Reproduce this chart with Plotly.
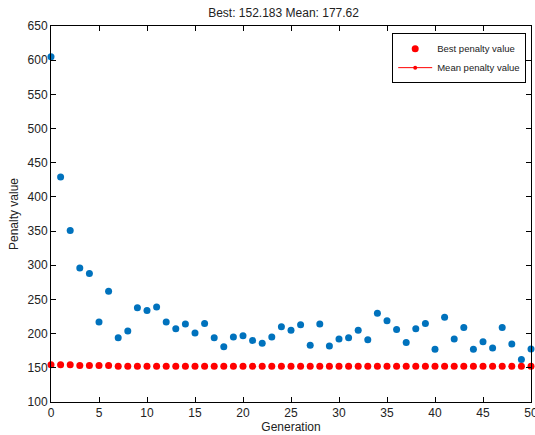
import plotly.graph_objects as go

generations = list(range(51))
best_values = [154.5, 154.5, 154.5, 153.5, 153.5, 153.5, 153.5] + [152.2] * 43 + [152.183]
mean_values = [605, 429, 351, 296, 288, 217, 262, 194, 204, 238,
               234, 239, 217, 207, 214, 201, 215, 194, 181, 195,
               197, 190, 186, 195, 210, 205, 213, 183, 214, 182,
               192, 194, 205, 191, 230, 219, 206, 187, 207, 215,
               177, 224, 192, 209, 177, 188, 179, 209, 185, 162, 177.62]
title_text = "Best: 152.183 Mean: 177.62"

fig = go.Figure()
fig.add_trace(go.Scatter(x=generations, y=mean_values, mode="markers",
                         marker=dict(color="#0072BD", size=7), showlegend=False,
                         cliponaxis=False))
fig.add_trace(go.Scatter(x=generations, y=best_values, mode="markers",
                         marker=dict(color="#FF0000", size=7), name="Best penalty value",
                         cliponaxis=False))
fig.add_trace(go.Scatter(x=[None], y=[None], mode="lines+markers",
                         line=dict(color="#FF0000", width=1),
                         marker=dict(color="#FF0000", size=4), name="Mean penalty value"))

axis_common = dict(showline=True, linecolor="black", linewidth=1, mirror="ticks",
                   ticks="inside", ticklen=5, tickcolor="black", showgrid=False,
                   zeroline=False, tickfont=dict(size=12, color="#222"),
                   ticklabeloverflow="allow", automargin=False)

fig.update_layout(
    width=535, height=435,
    margin=dict(l=51, r=4, t=26, b=33),
    paper_bgcolor="white", plot_bgcolor="white",
    font=dict(family="Liberation Sans, Arial, sans-serif", color="#222"),
    title=dict(text=title_text, x=0.53, xanchor="center", y=1 - 13 / 435, yanchor="middle",
               font=dict(size=12, color="#222")),
    xaxis=dict(range=[0, 50], dtick=5, title=dict(text="Generation", font=dict(size=12), standoff=1),
               **axis_common),
    yaxis=dict(range=[100, 650], dtick=50, title=dict(text="Penalty value", font=dict(size=12), standoff=6),
               **axis_common),
    legend=dict(x=0.99, y=0.981, xanchor="right", yanchor="top",
                bgcolor="white", bordercolor="black", borderwidth=1,
                font=dict(size=9.5, color="#222"), tracegroupgap=0, itemwidth=34),
)

fig.write_html("out.html", config={"displayModeBar": False},
               post_script="document.body.style.margin='0';document.body.style.overflow='hidden';")
